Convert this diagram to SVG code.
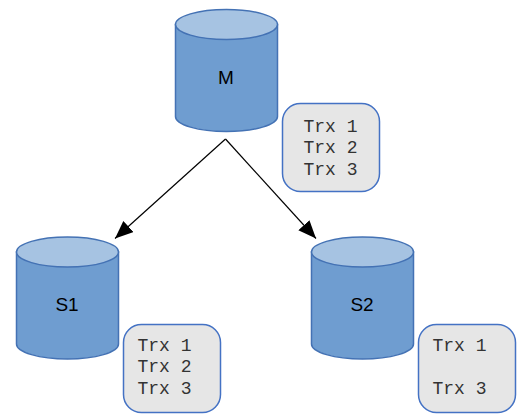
<svg xmlns="http://www.w3.org/2000/svg" width="529" height="416" viewBox="0 0 529 416">
<style>
.body{fill:#6f9dd0;stroke:#4472b4;stroke-width:1.5}
.top{fill:#a6c3e2;stroke:#4472b4;stroke-width:1.5}
.lbl{font-family:"Liberation Sans",Arial,sans-serif;font-size:19px;fill:#000;text-anchor:middle}
.box{fill:#e6e6e6;stroke:#4472c4;stroke-width:1.5}
.trx{font-family:"Liberation Mono","Courier New",monospace;font-size:18px;fill:#333}
.conn{fill:none;stroke:#000;stroke-width:1.2}
</style>
<defs>
<marker id="arrow" markerUnits="userSpaceOnUse" markerWidth="20" markerHeight="16" refX="18" refY="7.500" orient="auto">
<path d="M0 0L18 7.500L0 15Z" fill="#000"/>
</marker>
<g id="cyl">
<path class="body" d="M0 15V107A51 15 0 0 0 102 107V15Z"/>
<ellipse class="top" cx="51" cy="15" rx="51" ry="15"/>
</g>
</defs>
<g id="connectors">
<path class="conn" marker-end="url(#arrow)" d="M225.500 139L115 238.500"/>
<path class="conn" marker-end="url(#arrow)" d="M225.500 139L316 238.500"/>
</g>
<g id="M">
<use href="#cyl" x="175.500" y="9.500"/>
<text class="lbl" x="226" y="84">M</text>
</g>
<g id="S1">
<use href="#cyl" x="16.500" y="237"/>
<text class="lbl" x="67" y="311">S1</text>
</g>
<g id="S2">
<use href="#cyl" x="311.500" y="237"/>
<text class="lbl" x="362" y="311">S2</text>
</g>
<g id="M-log">
<rect class="box" x="282.500" y="103.500" width="97" height="88" rx="18"/>
<text class="trx" x="303.500" y="131.500">Trx 1</text>
<text class="trx" x="303.500" y="153">Trx 2</text>
<text class="trx" x="303.500" y="174.500">Trx 3</text>
</g>
<g id="S1-log">
<rect class="box" x="123.500" y="324.500" width="97" height="88" rx="18"/>
<text class="trx" x="137.500" y="350.500">Trx 1</text>
<text class="trx" x="137.500" y="372">Trx 2</text>
<text class="trx" x="137.500" y="393.500">Trx 3</text>
</g>
<g id="S2-log">
<rect class="box" x="418.500" y="324.500" width="97" height="88" rx="18"/>
<text class="trx" x="432.500" y="350.500">Trx 1</text>
<text class="trx" x="432.500" y="393.500">Trx 3</text>
</g>
</svg>
